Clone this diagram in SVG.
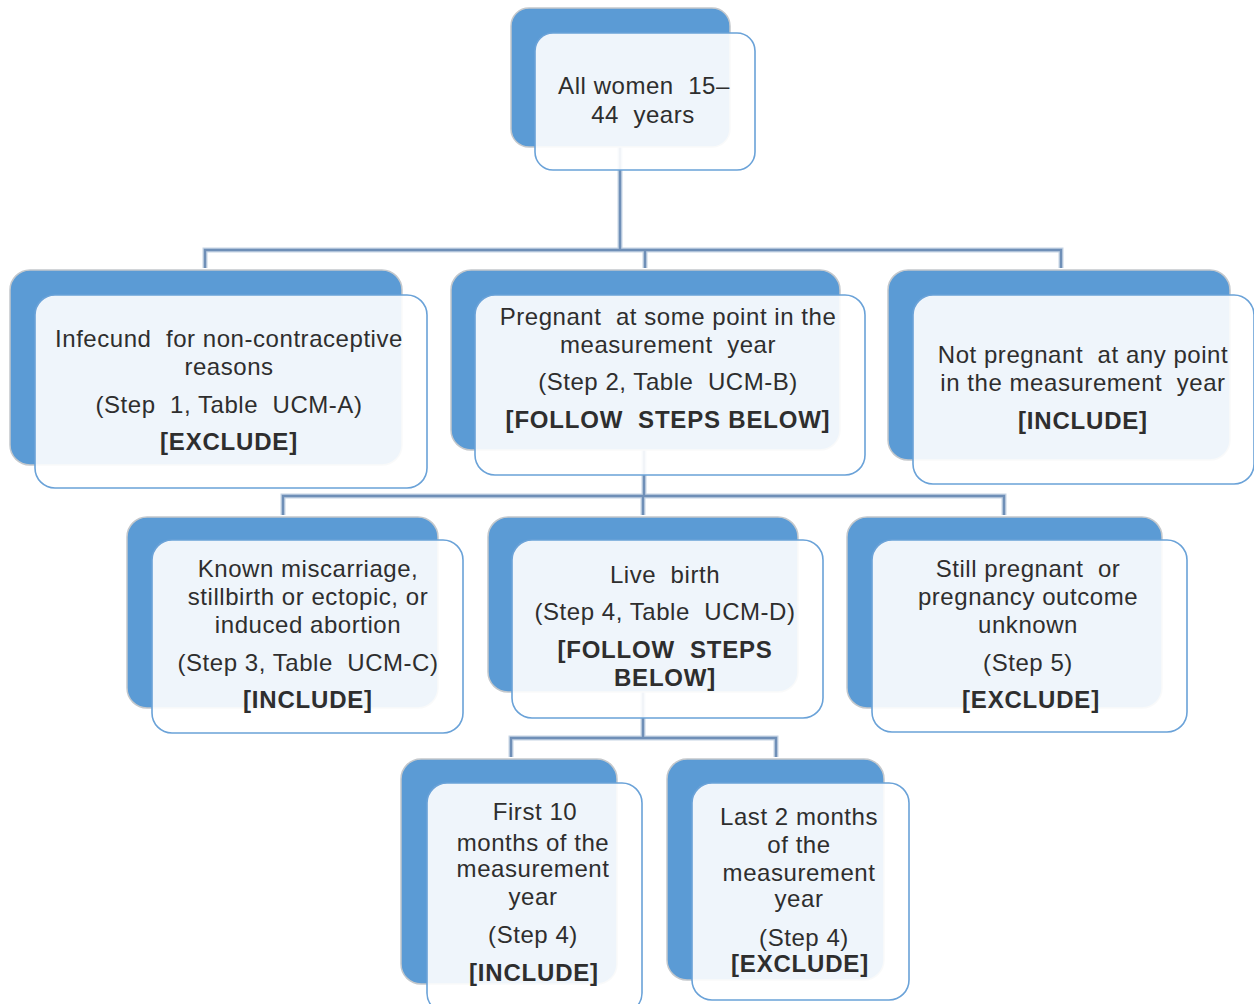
<svg xmlns="http://www.w3.org/2000/svg" width="1254" height="1004" viewBox="0 0 1254 1004" xml:space="preserve">
<style>
.back{fill:#5b9bd5;stroke:#c4c8cc;stroke-width:1.5}
.front{fill:#ffffff;fill-opacity:0.9;stroke:#6aa2d8;stroke-width:1.6}
.halo{fill:none;stroke:#c5d3e4;stroke-width:5}
.line{fill:none;stroke:#6f8fb7;stroke-width:2.4}
text{font-family:"Liberation Sans",Arial,sans-serif;font-size:24px;fill:#2e2e2e;text-anchor:middle;letter-spacing:0.55px;white-space:pre}
.b{font-weight:bold;letter-spacing:0.8px}
</style>
<rect width="1254" height="1004" fill="#ffffff"/>
<g id="connectors">
<path class="halo" d="M620 147V250M205 268V250H1061V268M645 250V268M644 450V496M283 515V496H1004V515M643 496V515M643 692V738M511 757V738H776V757"/>
<path class="line" d="M620 147V250M205 268V250H1061V268M645 250V268M644 450V496M283 515V496H1004V515M643 496V515M643 692V738M511 757V738H776V757"/>
</g>
<g id="n0">
<rect class="back" x="511" y="8" width="219" height="139" rx="18"/>
<rect class="front" x="535" y="33" width="220" height="137" rx="18"/>
<text x="644" y="94">All women  15–</text>
<text x="643" y="123">44  years</text>
</g>
<g id="n1">
<rect class="back" x="10" y="270" width="392" height="195" rx="20"/>
<rect class="front" x="35" y="295" width="392" height="193" rx="20"/>
<text x="229" y="347">Infecund  for non-contraceptive</text>
<text x="229" y="375">reasons</text>
<text x="229" y="413">(Step  1, Table  UCM-A)</text>
<text x="229" y="450" class="b">[EXCLUDE]</text>
</g>
<g id="n2">
<rect class="back" x="451" y="270" width="389" height="180" rx="20"/>
<rect class="front" x="475" y="295" width="390" height="180" rx="20"/>
<text x="668" y="325">Pregnant  at some point in the</text>
<text x="668" y="353">measurement  year</text>
<text x="668" y="390">(Step 2, Table  UCM-B)</text>
<text x="668" y="428" class="b">[FOLLOW  STEPS BELOW]</text>
</g>
<g id="n3">
<rect class="back" x="888" y="270" width="342" height="190" rx="20"/>
<rect class="front" x="913" y="295" width="341" height="189" rx="20"/>
<text x="1083" y="363">Not pregnant  at any point</text>
<text x="1083" y="391">in the measurement  year</text>
<text x="1083" y="429" class="b">[INCLUDE]</text>
</g>
<g id="n4">
<rect class="back" x="127" y="517" width="311" height="191" rx="20"/>
<rect class="front" x="152" y="540" width="311" height="193" rx="20"/>
<text x="308" y="577">Known miscarriage,</text>
<text x="308" y="605">stillbirth or ectopic, or</text>
<text x="308" y="633">induced abortion</text>
<text x="308" y="671">(Step 3, Table  UCM-C)</text>
<text x="308" y="708" class="b">[INCLUDE]</text>
</g>
<g id="n5">
<rect class="back" x="488" y="517" width="310" height="175" rx="20"/>
<rect class="front" x="512" y="540" width="311" height="178" rx="20"/>
<text x="665" y="583">Live  birth</text>
<text x="665" y="620">(Step 4, Table  UCM-D)</text>
<text x="665" y="658" class="b">[FOLLOW  STEPS</text>
<text x="665" y="686" class="b">BELOW]</text>
</g>
<g id="n6">
<rect class="back" x="847" y="517" width="315" height="191" rx="20"/>
<rect class="front" x="872" y="540" width="315" height="192" rx="20"/>
<text x="1028" y="577">Still pregnant  or</text>
<text x="1028" y="605">pregnancy outcome</text>
<text x="1028" y="633">unknown</text>
<text x="1028" y="671">(Step 5)</text>
<text x="1031" y="708" class="b">[EXCLUDE]</text>
</g>
<g id="n7">
<rect class="back" x="401" y="759" width="216" height="225" rx="20"/>
<rect class="front" x="427" y="783" width="215" height="230" rx="20"/>
<text x="535" y="820">First 10</text>
<text x="533" y="851">months of the</text>
<text x="533" y="877">measurement</text>
<text x="533" y="905">year</text>
<text x="533" y="943">(Step 4)</text>
<text x="534" y="981" class="b">[INCLUDE]</text>
</g>
<g id="n8">
<rect class="back" x="667" y="759" width="217" height="221" rx="20"/>
<rect class="front" x="692" y="783" width="217" height="217" rx="20"/>
<text x="799" y="825">Last 2 months</text>
<text x="799" y="853">of the</text>
<text x="799" y="881">measurement</text>
<text x="799" y="907">year</text>
<text x="804" y="946">(Step 4)</text>
<text x="800" y="972" class="b">[EXCLUDE]</text>
</g>
</svg>
